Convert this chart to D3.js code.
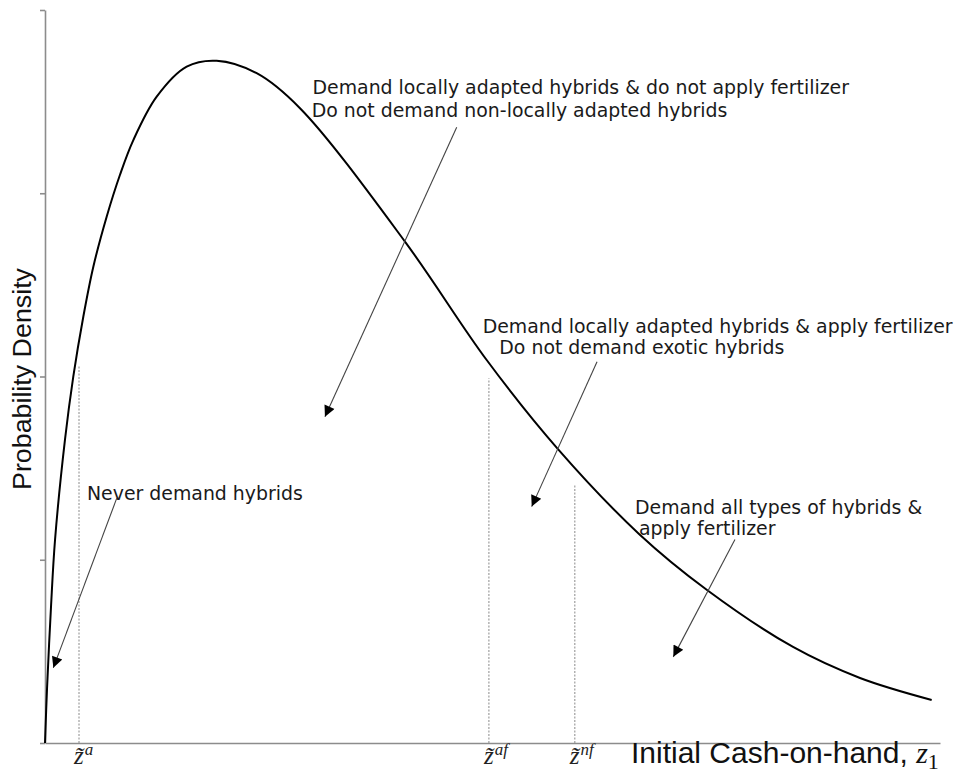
<!DOCTYPE html>
<html>
<head>
<meta charset="utf-8">
<script src="https://cdn.jsdelivr.net/npm/d3@7"></script>
<style>
  body { margin: 0; background: #fff; }
  svg { display: block; }
</style>
</head>
<body>
<div id="chart"></div>
<script>
// density curve (x: cash-on-hand, y: density)
const cash = [0, 0.22, 0.67, 1.12, 2.23, 3.16, 4.28, 5.40, 6.89, 8.38, 9.87, 12.48, 15.83, 19.18, 23.65, 28.49, 40.22, 49.35, 57.24, 66.37, 73.97, 83.58, 91.06, 99.07];
const density = [0, 0.289, 0.742, 1.108, 1.654, 1.999, 2.326, 2.599, 2.872, 3.101, 3.290, 3.527, 3.691, 3.723, 3.655, 3.464, 2.736, 2.090, 1.608, 1.141, 0.835, 0.524, 0.355, 0.235];

// thresholds z~a, z~af, z~nf
const thresholdX = [3.80, 49.6, 59.2];
const thresholdTop = [2.06, 1.99, 1.41];
const thresholdSup = ['a', 'af', 'nf'];

const yTicks = [0, 1, 2, 3, 4];

// annotations: text lines, where they sit, and arrow from/to
const noteLines = [
  ['Never demand hybrids'],
  ['Demand locally adapted hybrids & do not apply fertilizer', 'Do not demand non-locally adapted hybrids'],
  ['Demand locally adapted hybrids & apply fertilizer', 'Do not demand exotic hybrids'],
  ['Demand all types of hybrids &', 'apply fertilizer']
];
const noteX = [[4.69], [29.89, 29.80], [48.90, 50.76], [65.92, 66.37]];
const noteY = [[1.326], [3.542, 3.416], [2.237, 2.125], [1.250, 1.135]];
const arrowFrom = [[8.01, 1.335], [46.0, 3.36], [61.68, 2.08], [77.09, 1.11]];
const arrowTo = [[0.93, 0.41], [31.28, 1.78], [54.38, 1.29], [70.20, 0.47]];

const width = 954;
const height = 774;

const svg = d3.select('#chart').append('svg')
  .attr('width', width)
  .attr('height', height);

const x = d3.scaleLinear().domain([0, 100]).range([45, 940]);
const y = d3.scaleLinear().domain([0, 4]).range([743, 10]);

// arrow head
svg.append('defs').append('marker')
  .attr('id', 'head')
  .attr('viewBox', '0 0 10 10')
  .attr('refX', 10)
  .attr('refY', 5)
  .attr('markerWidth', 15)
  .attr('markerHeight', 11)
  .attr('markerUnits', 'userSpaceOnUse')
  .attr('orient', 'auto')
  .append('path')
  .attr('d', 'M0,0 L10,5 L0,10 Z')
  .attr('fill', '#000');

// axes
svg.append('g')
  .attr('transform', `translate(${x(0)},0)`)
  .call(d3.axisLeft(y).tickValues(yTicks).tickSize(5).tickSizeOuter(0).tickFormat(''));
svg.append('g')
  .attr('transform', `translate(0,${y(0)})`)
  .call(d3.axisBottom(x).tickValues([]).tickSizeOuter(0));
svg.selectAll('.domain, .tick line')
  .attr('stroke', '#8c8c8c')
  .attr('stroke-width', 1.6);

// dotted threshold lines
svg.append('g').selectAll('line')
  .data(thresholdX)
  .join('line')
  .attr('x1', d => x(d))
  .attr('x2', d => x(d))
  .attr('y1', y(0))
  .attr('y2', (d, i) => y(thresholdTop[i]))
  .attr('stroke', '#8a8a8a')
  .attr('stroke-width', 1)
  .attr('stroke-dasharray', '2,1.5');

// threshold labels under the axis
const zLab = svg.append('g').selectAll('text')
  .data(thresholdX)
  .join('text')
  .attr('x', d => x(d) - 5)
  .attr('y', 764)
  .attr('font-family', '"Liberation Serif", "DejaVu Serif", serif')
  .attr('font-style', 'italic')
  .attr('font-size', 25)
  .attr('fill', '#222');
zLab.append('tspan').text('z\u0303');
zLab.append('tspan')
  .attr('font-size', 17)
  .attr('dy', -9)
  .attr('dx', 1)
  .text((d, i) => thresholdSup[i]);

// density curve
const line = d3.line()
  .x((d, i) => x(cash[i]))
  .y(d => y(d))
  .curve(d3.curveCatmullRom.alpha(0.5));
svg.append('path')
  .datum(density)
  .attr('d', line)
  .attr('fill', 'none')
  .attr('stroke', '#000')
  .attr('stroke-width', 2);

// annotation arrows
svg.append('g').selectAll('line')
  .data(arrowFrom)
  .join('line')
  .attr('x1', d => x(d[0]))
  .attr('y1', d => y(d[1]))
  .attr('x2', (d, i) => x(arrowTo[i][0]))
  .attr('y2', (d, i) => y(arrowTo[i][1]))
  .attr('stroke', '#444')
  .attr('stroke-width', 1.1)
  .attr('marker-end', 'url(#head)');

// annotation text
noteLines.forEach((lines, k) => {
  svg.append('g').selectAll('text')
    .data(lines)
    .join('text')
    .attr('x', (d, i) => x(noteX[k][i]))
    .attr('y', (d, i) => y(noteY[k][i]))
    .attr('font-family', '"DejaVu Sans", Verdana, sans-serif')
    .attr('font-size', 18.9)
    .attr('fill', '#1a1a1a')
    .text(d => d);
});

// axis titles
svg.append('text')
  .attr('transform', `translate(31,379) rotate(-90)`)
  .attr('text-anchor', 'middle')
  .attr('font-family', '"Liberation Sans", Arial, sans-serif')
  .attr('font-size', 26)
  .attr('textLength', 222)
  .attr('lengthAdjust', 'spacingAndGlyphs')
  .attr('fill', '#111')
  .text('Probability Density');

const xt = svg.append('text')
  .attr('x', 631)
  .attr('y', 763)
  .attr('font-family', '"Liberation Sans", Arial, sans-serif')
  .attr('font-size', 30)
  .attr('fill', '#111');
xt.append('tspan').text('Initial Cash-on-hand, ');
xt.append('tspan')
  .attr('font-family', '"Liberation Serif", "DejaVu Serif", serif')
  .attr('font-style', 'italic')
  .text('z');
xt.append('tspan')
  .attr('font-family', '"Liberation Serif", "DejaVu Serif", serif')
  .attr('font-size', 22)
  .attr('dy', 6)
  .text('1');
</script>
</body>
</html>
